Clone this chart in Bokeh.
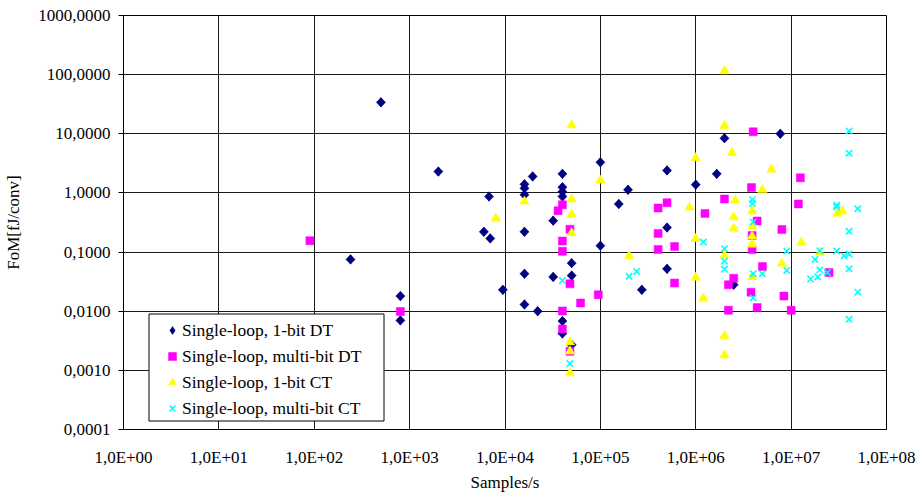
import numpy as np
from bokeh.plotting import figure
from bokeh.models import FixedTicker, Legend, LegendItem, BoxAnnotation
from bokeh.embed import file_html
from bokeh.resources import INLINE

# ---- data ----
dt1_x = [500, 2000, 6800, 6000, 7000, 240, 800, 800, 9500, 1e5, 5e5, 19500, 40000, 16000, 16000,
         16000, 40000, 40000, 40000, 195000, 1e6, 1.66e6, 156000, 32000, 16000, 1e5, 5e5, 5e5,
         50000, 16000, 32000, 50000, 272000, 16000, 22000, 40000, 40000, 50000, 2e6, 7.7e6, 2.5e6]
dt1_y = [34, 2.3, 0.87, 0.22, 0.17, 0.075, 0.018, 0.0070, 0.023, 3.3, 2.4, 1.9, 2.1, 1.4, 1.2,
         0.93, 1.25, 1.05, 0.87, 1.13, 1.38, 2.1, 0.65, 0.34, 0.22, 0.128, 0.26, 0.052,
         0.065, 0.043, 0.038, 0.040, 0.023, 0.013, 0.010, 0.0068, 0.0042, 0.0027, 8.4, 10.0, 0.028]

mdt_x = [90, 800, 40000, 36000, 48000, 40000, 40000, 403000, 5e5, 403000, 403000, 600000, 1.25e6,
         600000, 48000, 62000, 95000, 40000, 40000, 48000, 4.0e6, 1.25e7, 3.84e6, 2.0e6, 1.19e7,
         4.4e6, 8.0e6, 3.9e6, 3.9e6, 5.0e6, 2.5e6, 2.2e6, 3.8e6, 8.4e6, 2.2e6, 4.4e6, 1e7, 2.5e7]
mdt_y = [0.156, 0.0099, 0.63, 0.50, 0.243, 0.154, 0.103, 0.556, 0.685, 0.207, 0.111, 0.124, 0.45,
         0.030, 0.029, 0.0138, 0.019, 0.0101, 0.0050, 0.0021, 10.8, 1.8, 1.23, 0.79, 0.65,
         0.335, 0.24, 0.19, 0.11, 0.057, 0.036, 0.028, 0.021, 0.018, 0.0104, 0.0115, 0.0104, 0.045]

ct1_x = [8000, 50000, 1e5, 16000, 50000, 50000, 50000, 200000, 860000, 1e6, 1e6, 1e6, 48000, 48000,
         48000, 1.2e6, 2e6, 2e6, 2.4e6, 6.2e6, 5e6, 2.6e6, 2.5e6, 2.5e6, 3.9e6, 3.9e6, 3.9e6, 3.9e6,
         1.28e7, 2e6, 8e6, 2e7, 3.06e7, 3.45e7, 3.9e6, 2e6, 2e6]
ct1_y = [0.37, 14, 1.63, 0.72, 0.78, 0.43, 0.21, 0.086, 0.57, 3.9, 0.168, 0.037, 0.0030, 0.0021,
         0.0009, 0.0164, 115, 13.7, 4.8, 2.5, 1.13, 0.75, 0.39, 0.25, 0.49, 0.27, 0.185, 0.134,
         0.145, 0.088, 0.064, 0.098, 0.45, 0.49, 0.038, 0.0038, 0.0018]

mct_x = [1.2e6, 240000, 200000, 40000, 48000, 4.05e7, 4.05e7, 3.93e6, 3.93e6, 3.0e7, 3.0e7, 5.0e7,
         4.0e6, 4.05e7, 2e6, 2e6, 2e6, 9e6, 1.78e7, 2e7, 3e7, 3.6e7, 4.05e7, 4.05e7, 9e6, 2e7,
         2.4e7, 4e6, 5e6, 1.6e7, 1.9e7, 5e7, 4.05e7, 4e6]
mct_y = [0.148, 0.047, 0.039, 0.033, 0.0013, 11.1, 4.7, 0.77, 0.66, 0.62, 0.58, 0.54,
         0.32, 0.224, 0.114, 0.070, 0.051, 0.104, 0.075, 0.105, 0.104, 0.086, 0.093, 0.052, 0.049, 0.050,
         0.045, 0.043, 0.043, 0.035, 0.038, 0.021, 0.0073, 0.0168]

x_ticks = [1e0, 1e1, 1e2, 1e3, 1e4, 1e5, 1e6, 1e7, 1e8]
x_tick_labels = ["1,0E+00", "1,0E+01", "1,0E+02", "1,0E+03", "1,0E+04",
                 "1,0E+05", "1,0E+06", "1,0E+07", "1,0E+08"]
y_ticks = [1e-4, 1e-3, 1e-2, 1e-1, 1e0, 1e1, 1e2, 1e3]
y_tick_labels = ["0,0001", "0,0010", "0,0100", "0,1000", "1,0000",
                 "10,0000", "100,0000", "1000,0000"]

series_names = ["Single-loop, 1-bit DT", "Single-loop, multi-bit DT",
                "Single-loop, 1-bit CT", "Single-loop, multi-bit CT"]

FONT = "Liberation Serif"

p = figure(width=921, height=498, x_axis_type="log", y_axis_type="log",
           x_range=(1, 1e8), y_range=(1e-4, 1e3),
           output_backend="svg", toolbar_location=None,
           min_border_left=123, min_border_right=35, min_border_top=15, min_border_bottom=69)
p.background_fill_color = "white"
p.border_fill_color = "white"
p.outline_line_color = "black"
p.outline_line_width = 1

xt = FixedTicker(ticks=x_ticks)
yt = FixedTicker(ticks=y_ticks)
p.xaxis.ticker = xt
p.yaxis.ticker = yt
p.xgrid.ticker = xt
p.ygrid.ticker = yt
p.xaxis.major_label_overrides = {t: l for t, l in zip(x_ticks, x_tick_labels)}
p.yaxis.major_label_overrides = {t: l for t, l in zip(y_ticks, y_tick_labels)}

for g in (p.xgrid, p.ygrid):
    g.grid_line_color = "#1a1a1a"
    g.grid_line_width = 1

for ax in (p.xaxis, p.yaxis):
    ax.axis_line_color = "black"
    ax.major_label_text_font = FONT
    ax.major_label_text_font_size = "17px"
    ax.major_label_text_color = "black"
    ax.axis_label_text_font = FONT
    ax.axis_label_text_font_size = "17px"
    ax.axis_label_text_font_style = "normal"
    ax.axis_label_text_color = "black"
    ax.minor_tick_line_color = None

p.xaxis.major_tick_out = 0
p.xaxis.major_tick_in = 0
p.xaxis.major_label_standoff = 18
p.xaxis.axis_label = "Samples/s"
p.xaxis.axis_label_standoff = 3

p.yaxis.major_tick_out = 5
p.yaxis.major_tick_in = 0
p.yaxis.major_tick_line_color = "black"
p.yaxis.major_label_standoff = 8
p.yaxis.axis_label = "FoM[fJ/conv]"
p.yaxis.axis_label_standoff = 12

# diamond glyph used for the legend entry; drawn beneath (and fully covered by) the rotated squares
r1_leg = p.scatter(dt1_x, dt1_y, marker="diamond", size=9.5,
                   fill_color="#000080", line_color="#000080", line_width=0.5)
r1 = p.scatter(dt1_x, dt1_y, marker="square", size=6.5, angle=np.pi / 4,
               fill_color="#000080", line_color="#000080", line_width=0.5)
r2 = p.scatter(mdt_x, mdt_y, marker="square", size=8,
               fill_color="#FF00FF", line_color="#FF00FF", line_width=0.5)
r3 = p.scatter(ct1_x, ct1_y, marker="triangle", size=9.5,
               fill_color="#FFFF00", line_color="#FFFF00", line_width=0.5)
r4 = p.scatter(mct_x, mct_y, marker="x", size=9,
               line_color="#00FFFF", line_width=1.6)

# legend frame (screen units, relative to the plot frame's bottom-left corner)
legend_box = BoxAnnotation(left=25.5, right=260.5, top=115.5, bottom=8.5,
                           left_units="screen", right_units="screen",
                           top_units="screen", bottom_units="screen",
                           fill_color="white", fill_alpha=1,
                           line_color="black", line_width=1, line_alpha=1)
p.add_layout(legend_box)

legend = Legend(items=[LegendItem(label=n, renderers=[r])
                       for n, r in zip(series_names, [r1_leg, r2, r3, r4])],
                location=(39, 9), orientation="vertical")
legend.label_text_font = FONT
legend.label_text_font_size = "17.5px"
legend.label_text_color = "black"
legend.padding = 2
legend.spacing = 2
legend.margin = 0
legend.label_height = 24
legend.glyph_height = 20
legend.glyph_width = 20
legend.label_standoff = 0
legend.border_line_color = None
legend.background_fill_alpha = 0
p.add_layout(legend, "center")

open("out.html", "w").write(file_html(p, INLINE))
